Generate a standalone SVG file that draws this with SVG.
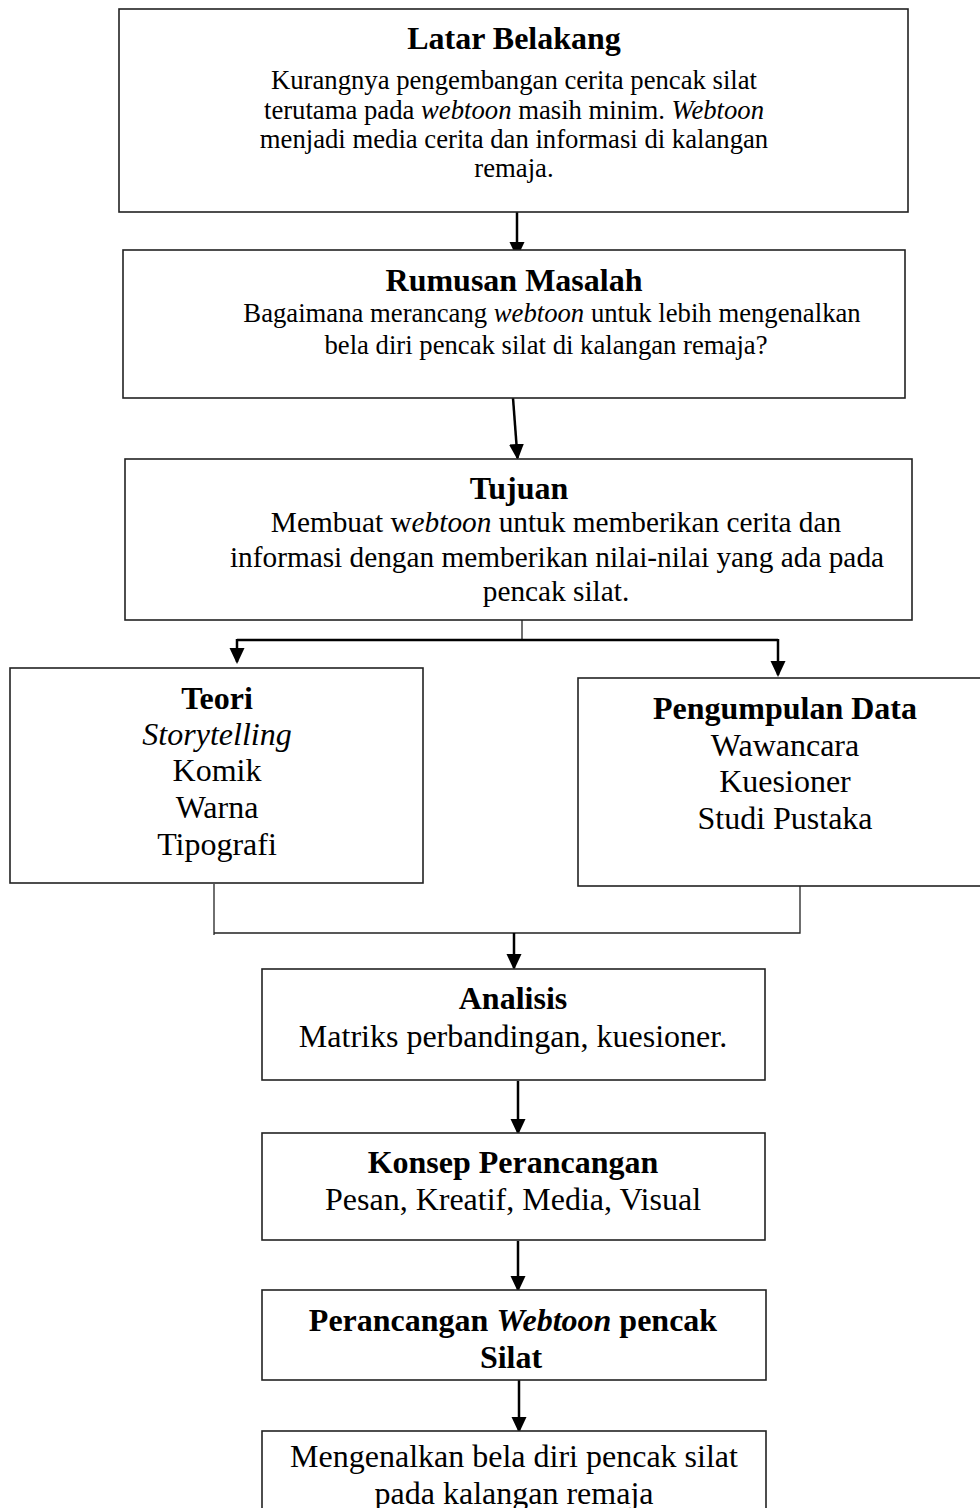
<svg xmlns="http://www.w3.org/2000/svg" width="980" height="1508" viewBox="0 0 980 1508">
<style>
.box{fill:#fff;stroke:#222;stroke-width:1.6}
text{font-family:"Liberation Serif","Times New Roman",serif;fill:#000;text-anchor:middle}
.t{font-weight:bold;font-size:32px}
.b1{font-size:26.7px}
.b2{font-size:29.3px}
.b3{font-size:32px}
.i{font-style:italic}
.c{fill:none;stroke:#000;stroke-width:2.5}
.thin{fill:none;stroke:#222;stroke-width:1.3}
</style>
<defs>
<marker id="ah" markerUnits="userSpaceOnUse" markerWidth="16" markerHeight="18" refX="14" refY="7.5" orient="auto">
<path d="M0,0 L16,7.5 L0,15 Z" fill="#000"/>
</marker>
</defs>
<rect width="980" height="1508" fill="#fff"/>

<g id="connectors">
<line class="c" x1="517" y1="212" x2="517" y2="256" marker-end="url(#ah)"/>
<line class="c" x1="513" y1="398" x2="517.5" y2="458" marker-end="url(#ah)"/>
<polyline class="thin" points="522,620 522,640"/>
<line class="c" x1="237" y1="640" x2="778" y2="640"/>
<line class="c" x1="237" y1="639" x2="237" y2="662" marker-end="url(#ah)"/>
<line class="c" x1="778" y1="639" x2="778" y2="675" marker-end="url(#ah)"/>
<polyline class="thin" points="214,884 214,935"/>
<polyline class="thin" points="800,886 800,933 214,933"/>
<line class="c" x1="514" y1="933" x2="514" y2="968" marker-end="url(#ah)"/>
<line class="c" x1="518" y1="1081" x2="518" y2="1133" marker-end="url(#ah)"/>
<line class="c" x1="518" y1="1241" x2="518" y2="1290" marker-end="url(#ah)"/>
<line class="c" x1="519" y1="1372" x2="519" y2="1431" marker-end="url(#ah)"/>
</g>

<g id="latar">
<rect class="box" x="119" y="9" width="789" height="203"/>
<text class="t" x="514" y="49">Latar Belakang</text>
<text class="b1" x="514" y="89">Kurangnya pengembangan cerita pencak silat</text>
<text class="b1" x="514" y="119">terutama pada <tspan class="i">webtoon</tspan> masih minim. <tspan class="i">Webtoon</tspan></text>
<text class="b1" x="514" y="148">menjadi media cerita dan informasi di kalangan</text>
<text class="b1" x="514" y="177">remaja.</text>
</g>

<g id="rumusan">
<rect class="box" x="123" y="250" width="782" height="148"/>
<text class="t" x="514" y="291">Rumusan Masalah</text>
<text class="b1" x="552" y="322">Bagaimana merancang <tspan class="i">webtoon</tspan> untuk lebih mengenalkan</text>
<text class="b1" x="546" y="354">bela diri pencak silat di kalangan remaja?</text>
</g>

<g id="tujuan">
<rect class="box" x="125" y="459" width="787" height="161"/>
<text class="t" x="519" y="499">Tujuan</text>
<text class="b2" x="556" y="532">Membuat w<tspan class="i">ebtoon</tspan> untuk memberikan cerita dan</text>
<text class="b2" x="557" y="567">informasi dengan memberikan nilai-nilai yang ada pada</text>
<text class="b2" x="556" y="601">pencak silat.</text>
</g>

<g id="teori">
<rect class="box" x="10" y="668" width="413" height="215"/>
<text class="t" x="217" y="709">Teori</text>
<text class="b3 i" x="217" y="745">Storytelling</text>
<text class="b3" x="217" y="781">Komik</text>
<text class="b3" x="217" y="818">Warna</text>
<text class="b3" x="217" y="855">Tipografi</text>
</g>

<g id="pengumpulan">
<rect class="box" x="578" y="678" width="420" height="208"/>
<text class="t" x="785" y="719">Pengumpulan Data</text>
<text class="b3" x="785" y="756">Wawancara</text>
<text class="b3" x="785" y="792">Kuesioner</text>
<text class="b3" x="785" y="829">Studi Pustaka</text>
</g>

<g id="analisis">
<rect class="box" x="262" y="969" width="503" height="111"/>
<text class="t" x="513" y="1009">Analisis</text>
<text class="b3" x="513" y="1047">Matriks perbandingan, kuesioner.</text>
</g>

<g id="konsep">
<rect class="box" x="262" y="1133" width="503" height="107"/>
<text class="t" x="513" y="1173">Konsep Perancangan</text>
<text class="b3" x="513" y="1210">Pesan, Kreatif, Media, Visual</text>
</g>

<g id="perancangan">
<rect class="box" x="262" y="1290" width="504" height="90"/>
<text class="t" x="513" y="1331">Perancangan <tspan class="i">Webtoon</tspan> pencak</text>
<text class="t" x="511" y="1368">Silat</text>
</g>

<g id="hasil">
<rect class="box" x="262" y="1431" width="504" height="90"/>
<text class="b3" x="514" y="1467">Mengenalkan bela diri pencak silat</text>
<text class="b3" x="514" y="1504">pada kalangan remaja</text>
</g>
</svg>
